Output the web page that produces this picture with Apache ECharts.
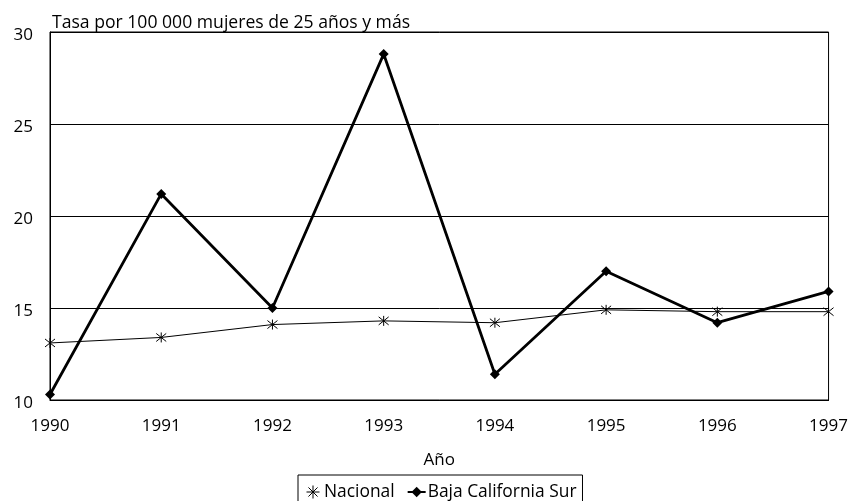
<!DOCTYPE html>
<html>
<head>
<meta charset="utf-8">
<script src="https://cdn.jsdelivr.net/npm/echarts@6/dist/echarts.min.js"></script>
<style>
  html, body { margin: 0; padding: 0; background: #fff; }
  #chart { width: 851px; height: 501px; }
</style>
</head>
<body>
<div id="chart"></div>
<script>
// Tasa de mortalidad por cáncer, mujeres de 25 años y más
const years = ['1990', '1991', '1992', '1993', '1994', '1995', '1996', '1997'];
const nacional = [13.1, 13.4, 14.1, 14.3, 14.2, 14.9, 14.8, 14.8];
const bajaCaliforniaSur = [10.3, 21.2, 15.0, 28.8, 11.4, 17.0, 14.2, 15.9];
const yTicks = [10, 15, 20, 25, 30];

const FONT = '"Open Sans", "DejaVu Sans", sans-serif';
// star marker (vertical bar + cross) and legend asterisk, drawn as stroked paths
const starMarker = 'path://M5,0 L5,10 M1,1 L9,9 M9,1 L1,9';
const asteriskIcon = 'path://M0,5 L10,5 M5,0 L5,10 M1.5,1.5 L8.5,8.5 M8.5,1.5 L1.5,8.5';

const chart = echarts.init(document.getElementById('chart'), null, { renderer: 'canvas' });
chart.setOption({
  animation: false,
  backgroundColor: '#ffffff',
  textStyle: { fontFamily: FONT, color: '#000' },
  title: {
    text: 'Tasa por 100 000 mujeres de 25 años y más',
    left: 47, top: 9,
    textStyle: { fontFamily: FONT, fontSize: 17.6, fontWeight: 'normal', color: '#000' }
  },
  grid: {
    left: 50, right: 22, top: 32, bottom: 101,
    show: true, borderColor: '#000', borderWidth: 1
  },
  legend: {
    top: 475, left: 298,
    padding: [8, 6, 12, 6],
    itemGap: 12,
    itemWidth: 18, itemHeight: 13,
    borderColor: '#000', borderWidth: 1,
    textStyle: { fontFamily: FONT, fontSize: 17.4, color: '#000', padding: [0, 0, 0, -3] },
    data: [
      { name: 'Nacional', icon: asteriskIcon, itemStyle: { color: 'none', borderColor: '#000', borderWidth: 1 } },
      { name: 'Baja California Sur' }
    ]
  },
  xAxis: {
    type: 'category',
    data: years,
    boundaryGap: false,
    name: 'Año',
    nameLocation: 'middle',
    nameGap: 52,
    nameTextStyle: { fontFamily: FONT, fontSize: 17, color: '#000' },
    axisLine: { lineStyle: { color: '#000', width: 1 } },
    axisTick: { show: false },
    axisLabel: { fontFamily: FONT, fontSize: 17, color: '#000', margin: 18 },
    splitLine: { show: false }
  },
  yAxis: {
    type: 'value',
    min: yTicks[0], max: yTicks[yTicks.length - 1], interval: 5,
    axisLine: { show: true, lineStyle: { color: '#000', width: 1 } },
    axisTick: { show: false },
    axisLabel: { fontFamily: FONT, fontSize: 17, color: '#000', margin: 17, verticalAlign: 'top', padding: [-5, 0, 0, 0] },
    splitLine: { show: true, lineStyle: { color: '#000', width: 1 } }
  },
  series: [
    {
      name: 'Nacional',
      type: 'line',
      data: nacional,
      symbol: starMarker,
      symbolSize: 10,
      showAllSymbol: true,
      lineStyle: { color: '#000', width: 1 },
      itemStyle: { color: 'none', borderColor: '#000', borderWidth: 1 },
      z: 3
    },
    {
      name: 'Baja California Sur',
      type: 'line',
      data: bajaCaliforniaSur,
      symbol: 'diamond',
      symbolSize: 10,
      showAllSymbol: true,
      lineStyle: { color: '#000', width: 2.8 },
      itemStyle: { color: '#000' },
      z: 4
    }
  ]
});
</script>
</body>
</html>
